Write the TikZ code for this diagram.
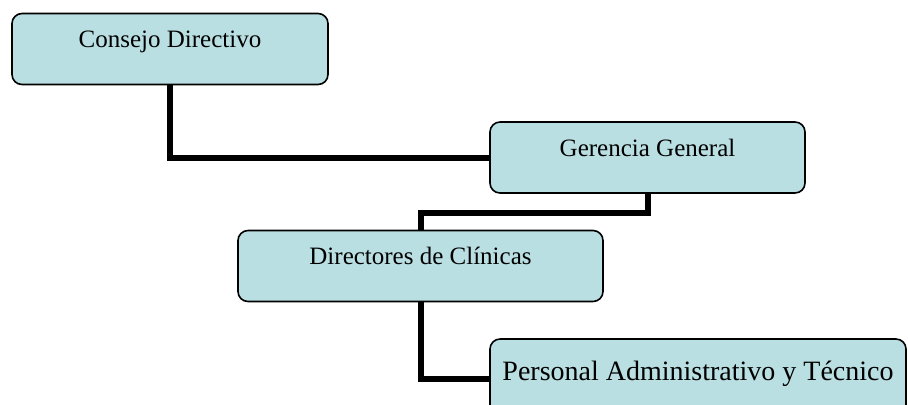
\documentclass[tikz,border=0pt]{standalone}
\usepackage{fontspec}
\setmainfont{Liberation Serif}
\usetikzlibrary{positioning}
\definecolor{orgfill}{RGB}{185,223,226}
\tikzset{
  orgbox/.style={draw, rounded corners=5pt, fill=orgfill, line width=0.8pt, align=center,
    font=\fontsize{12.5}{15}\selectfont, inner sep=0pt, text height=17pt, text depth=18.5pt},
  orgline/.style={line width=3pt}
}
\begin{document}
\begin{tikzpicture}[x=0.5pt, y=-0.5pt]
    \useasboundingbox (0,0) rectangle (908,404);
    \clip (0,0) rectangle (908,404);
    \node[orgbox, minimum width=158pt] (consejo) at (170,49) {Consejo Directivo};
    \node[orgbox, minimum width=157.5pt] (gerencia) at (647.5,157.5) {Gerencia General};
    \node[orgbox, minimum width=182.5pt] (directores) at (420.5,266) {Directores de Clínicas};
    \node[orgbox, minimum width=208pt, font=\fontsize{14}{16}\selectfont,
      text height=20.5pt, text depth=19pt] (personal) at (698,378.5) {Personal Administrativo y Técnico};
    \draw[orgline] (consejo.south) |- (gerencia.west);
    \draw[orgline] (gerencia.south) -- ++(0,19) -| (directores.north);
    \draw[orgline] (directores.south) |- (personal.west);
  \end{tikzpicture}
\end{document}
